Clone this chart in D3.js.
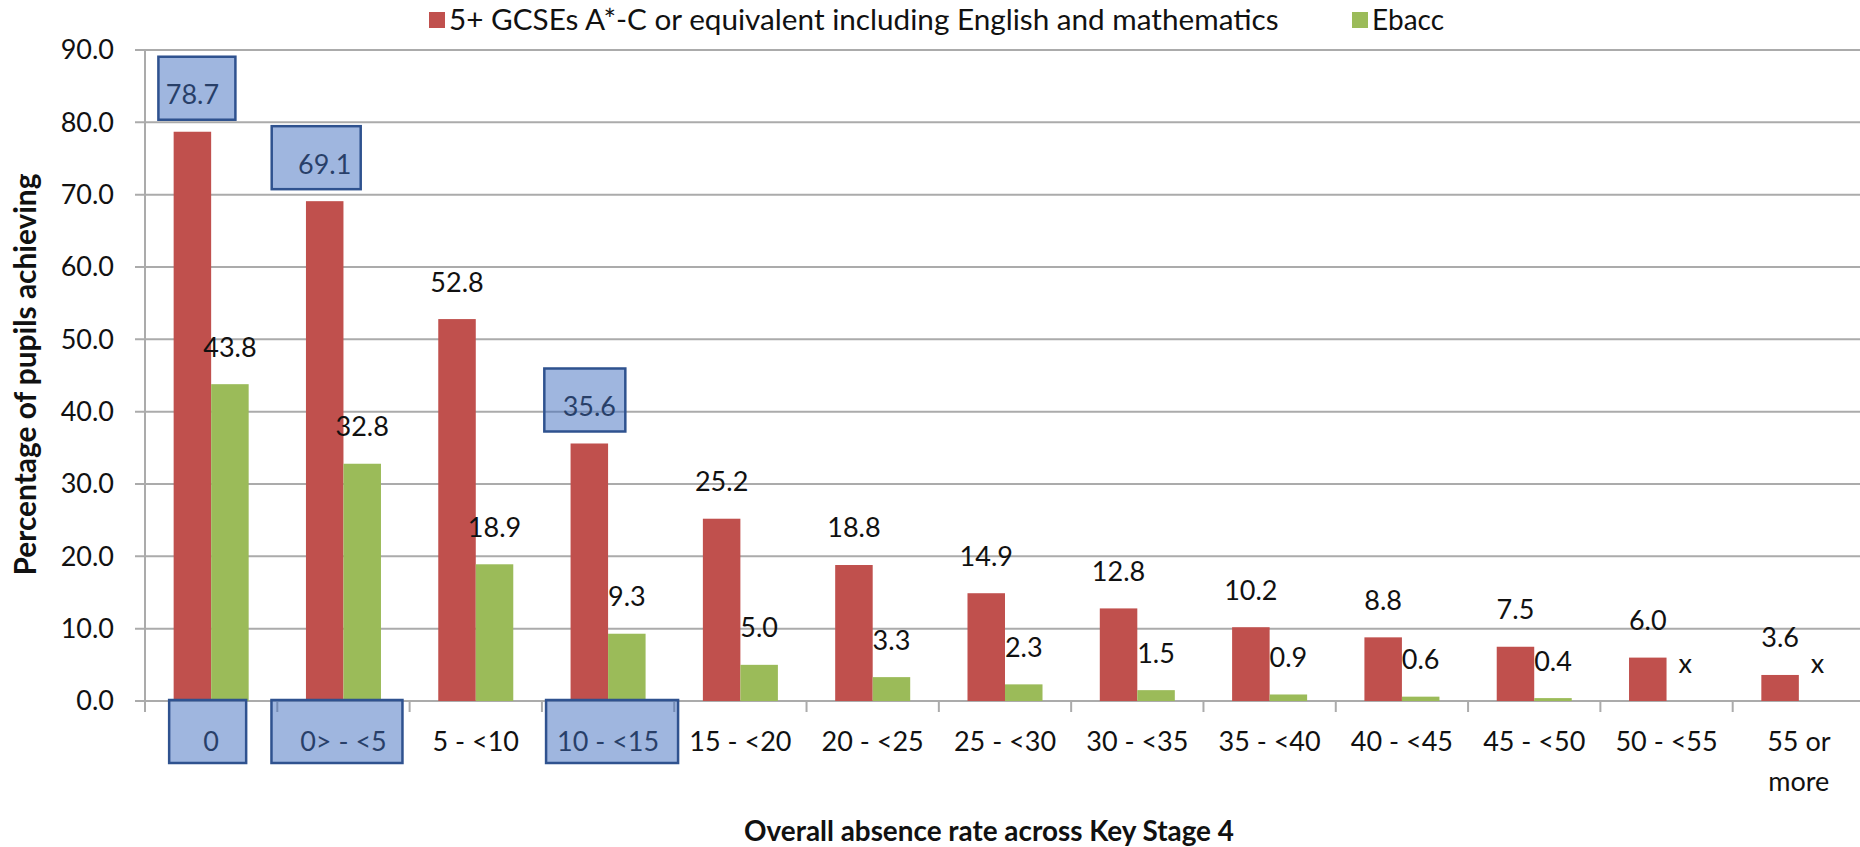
<!DOCTYPE html>
<html>
<head>
<meta charset="utf-8">
<script src="https://cdn.jsdelivr.net/npm/d3@7"></script>
<style>
  html, body { margin: 0; padding: 0; background: #ffffff; }
  svg { display: block; }
  text { font-family: Lato, "Open Sans", "Liberation Sans", sans-serif; }
</style>
</head>
<body>
<svg id="chart" width="1860" height="847"></svg>
<script>
// ---------- data ----------
const categories = ["0", "0> - <5", "5 - <10", "10 - <15", "15 - <20", "20 - <25", "25 - <30",
                    "30 - <35", "35 - <40", "40 - <45", "45 - <50", "50 - <55", "55 or more"];
const gcseValues = [78.7, 69.1, 52.8, 35.6, 25.2, 18.8, 14.9, 12.8, 10.2, 8.8, 7.5, 6.0, 3.6];
const ebaccValues = [43.8, 32.8, 18.9, 9.3, 5.0, 3.3, 2.3, 1.5, 0.9, 0.6, 0.4, null, null];
const yTicks = [0, 10, 20, 30, 40, 50, 60, 70, 80, 90];
const seriesNames = ["5+ GCSEs A*-C or equivalent including English and mathematics", "Ebacc"];
const yTitle = "Percentage of pupils achieving";
const xTitle = "Overall absence rate across Key Stage 4";
// highlighted annotations: value labels of GCSE series and category tick labels
const highlightValueCats = ["0", "0> - <5", "10 - <15"];
const highlightTickCats = ["0", "0> - <5", "10 - <15"];

// ---------- layout ----------
const colors = { gcse: "#c0504d", ebacc: "#9bbb59", grid: "#ababab", text: "#111111" };
const svg = d3.select("#chart");
const plot = { left: 145, right: 1865, top: 50, bottom: 701 };

// scale a text's font-size so that it spans a target width
function fitWidth(sel, target) {
  const fs = +sel.attr("font-size");
  const w = sel.node().getComputedTextLength();
  if (w > 0) sel.attr("font-size", fs * target / w);
}

const x = d3.scaleBand().domain(categories).range([plot.left, plot.right])
  .paddingInner(0.433).paddingOuter(0.2165);
const xs = d3.scaleBand().domain(["gcse", "ebacc"]).range([0, x.bandwidth()]);
const y = d3.scaleLinear().domain([0, 90]).range([plot.bottom, plot.top]);
const fmt = d3.format(".1f");

// gridlines
svg.append("g").selectAll("line").data(yTicks).join("line")
  .attr("x1", plot.left - 10).attr("x2", 1860)
  .attr("y1", d => y(d)).attr("y2", d => y(d))
  .attr("stroke", colors.grid).attr("stroke-width", 2);

// y axis line
svg.append("line").attr("x1", plot.left).attr("x2", plot.left)
  .attr("y1", y(90)).attr("y2", plot.bottom + 10)
  .attr("stroke", colors.grid).attr("stroke-width", 2);

// x tick marks at category boundaries
const step = x.step();
const boundaries = d3.range(categories.length + 1).map(i => plot.left + i * step);
svg.append("g").selectAll("line").data(boundaries).join("line")
  .attr("x1", d => d).attr("x2", d => d)
  .attr("y1", plot.bottom).attr("y2", plot.bottom + 11)
  .attr("stroke", colors.grid).attr("stroke-width", 2);

// y tick labels
svg.append("g").selectAll("text").data(yTicks).join("text")
  .attr("x", plot.left - 31).attr("y", d => y(d))
  .attr("dy", "0.35em").attr("text-anchor", "end")
  .attr("font-size", 27).attr("fill", colors.text)
  .text(d => fmt(d));

// bars
const gBars = svg.append("g");
gBars.selectAll("rect.gcse").data(categories).join("rect").attr("class", "gcse")
  .attr("x", (d) => x(d) + xs("gcse")).attr("width", xs.bandwidth())
  .attr("y", (d, i) => y(gcseValues[i])).attr("height", (d, i) => y(0) - y(gcseValues[i]))
  .attr("fill", colors.gcse);
gBars.selectAll("rect.ebacc").data(categories.filter((d, i) => ebaccValues[i] != null)).join("rect")
  .attr("class", "ebacc")
  .attr("x", d => x(d) + xs("ebacc")).attr("width", xs.bandwidth())
  .attr("y", d => y(ebaccValues[categories.indexOf(d)]))
  .attr("height", d => y(0) - y(ebaccValues[categories.indexOf(d)]))
  .attr("fill", colors.ebacc);

// value labels
const labelGap = 37;
svg.append("g").selectAll("text").data(categories).join("text")
  .attr("x", d => x(d) + xs("gcse") + xs.bandwidth() / 2)
  .attr("y", (d, i) => y(gcseValues[i]) - labelGap)
  .attr("dy", "0.35em").attr("text-anchor", "middle")
  .attr("font-size", 27).attr("fill", colors.text)
  .text((d, i) => fmt(gcseValues[i]));
svg.append("g").selectAll("text").data(categories).join("text")
  .attr("x", d => x(d) + xs("ebacc") + xs.bandwidth() / 2)
  .attr("y", (d, i) => y(ebaccValues[i] == null ? 0 : ebaccValues[i]) - labelGap)
  .attr("dy", "0.35em").attr("text-anchor", "middle")
  .attr("font-size", 27).attr("fill", colors.text)
  .text((d, i) => ebaccValues[i] == null ? "x" : fmt(ebaccValues[i]));

// category labels
const catG = svg.append("g");
categories.forEach(c => {
  const t = catG.append("text")
    .attr("x", x(c) + x.bandwidth() / 2).attr("y", 742)
    .attr("text-anchor", "middle").attr("font-size", 27).attr("fill", colors.text);
  const lines = c === "55 or more" ? ["55 or", "more"] : [c];
  lines.forEach((ln, k) => t.append("tspan")
    .attr("x", x(c) + x.bandwidth() / 2).attr("y", 742 + k * 40).attr("dy", "0.35em").text(ln));
});

// axis titles
const yT = svg.append("text").attr("transform", `translate(26, ${(plot.top + plot.bottom) / 2 - 1}) rotate(-90)`)
  .attr("text-anchor", "middle").attr("dy", "0.35em")
  .attr("font-size", 25).attr("font-weight", "bold").attr("fill", colors.text)
  .text(yTitle);
fitWidth(yT, 402);
const xT = svg.append("text").attr("x", 989).attr("y", 831).attr("dy", "0.35em")
  .attr("text-anchor", "middle")
  .attr("font-size", 24).attr("font-weight", "bold").attr("fill", colors.text)
  .text(xTitle);
fitWidth(xT, 490);

// legend
const legendItems = [
  { name: seriesNames[0], color: colors.gcse, x: 429, w: 830 },
  { name: seriesNames[1], color: colors.ebacc, x: 1352, w: 72 }
];
const lg = svg.append("g");
legendItems.forEach(it => {
  lg.append("rect").attr("x", it.x).attr("y", 12).attr("width", 16).attr("height", 16).attr("fill", it.color);
  const t = lg.append("text").attr("x", it.x + 20).attr("y", 20).attr("dy", "0.35em")
    .attr("font-size", 27).attr("fill", colors.text).text(it.name);
  fitWidth(t, it.w);
});

// highlight boxes (semi-transparent overlays)
const boxStyle = { fill: "#3f6dbf", opacity: 0.5, stroke: "#2f528f" };
const hg = svg.append("g");
highlightValueCats.forEach((c, k) => {
  const i = categories.indexOf(c);
  const cx = x(c) + xs("gcse") + xs.bandwidth() / 2;
  const cy = y(gcseValues[i]) - labelGap;
  const pads = [[-34, 43], [-53, 36], [-45, 36]][k];
  hg.append("rect").attr("x", cx + pads[0]).attr("y", cy - 38)
    .attr("width", pads[1] - pads[0]).attr("height", 63)
    .attr("fill", boxStyle.fill).attr("fill-opacity", boxStyle.opacity)
    .attr("stroke", boxStyle.stroke).attr("stroke-width", 2.5);
});
highlightTickCats.forEach((c, k) => {
  const cx = x(c) + x.bandwidth() / 2;
  const pads = [[-42, 35], [-72, 59], [-62, 70]][k];
  hg.append("rect").attr("x", cx + pads[0]).attr("y", 700)
    .attr("width", pads[1] - pads[0]).attr("height", 63)
    .attr("fill", boxStyle.fill).attr("fill-opacity", boxStyle.opacity)
    .attr("stroke", boxStyle.stroke).attr("stroke-width", 2.5);
});
</script>
</body>
</html>
